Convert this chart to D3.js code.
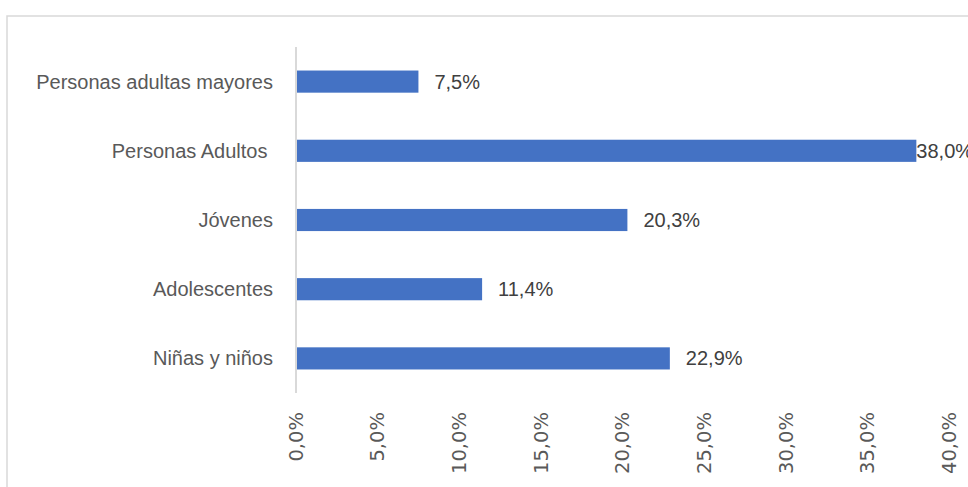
<!DOCTYPE html>
<html lang="es">
<head>
    <meta charset="UTF-8">
    <title>Distribución por grupo de edad</title>
    <script src="https://d3js.org/d3.v7.min.js"></script>
    <style>
        body { margin: 0; background: #fff; }
        .cat text { font: 20px "Liberation Sans", Arial, sans-serif; fill: #595959; white-space: pre; }
        .val { font: 20px "Liberation Sans", Arial, sans-serif; fill: #404040; }
        .xaxis text { font: 19.5px "DejaVu Sans", sans-serif; fill: #595959; }
    </style>
</head>
<body>
    <script>
        // categories top to bottom, values in percent
        var categories = ["Personas adultas mayores", "Personas Adultos ", "Jóvenes", "Adolescentes", "Niñas y niños"];
        var values = [7.5, 38.0, 20.3, 11.4, 22.9];
        var xTicks = [0, 5, 10, 15, 20, 25, 30, 35, 40];

        var width = 968, height = 487;
        var margin = {top: 47, left: 296, right: 19, bottom: 94};

        var svg = d3.select("body").append("svg")
            .attr("width", width)
            .attr("height", height);

        // chart area border
        svg.append("rect")
            .attr("x", 7).attr("y", 16)
            .attr("width", width + 20).attr("height", height + 20)
            .attr("fill", "none")
            .attr("stroke", "#d9d9d9")
            .attr("stroke-width", 1.5);

        var x = d3.scaleLinear()
            .domain([0, 40])
            .range([margin.left, width - margin.right]);

        var y = d3.scaleBand()
            .domain(categories)
            .range([margin.top, height - margin.bottom])
            .paddingInner(0.68)
            .paddingOuter(0.34);

        var data = categories.map((c, i) => ({cat: c, v: values[i]}));

        svg.selectAll(".bar")
            .data(data)
            .enter().append("rect")
            .attr("class", "bar")
            .attr("x", x(0))
            .attr("y", d => y(d.cat))
            .attr("width", d => x(d.v) - x(0))
            .attr("height", y.bandwidth())
            .attr("fill", "#4472c4");

        // vertical category axis line
        svg.append("line")
            .attr("x1", x(0)).attr("x2", x(0))
            .attr("y1", margin.top).attr("y2", height - margin.bottom)
            .attr("stroke", "#d9d9d9")
            .attr("stroke-width", 2);

        var cat = svg.append("g").attr("class", "cat");
        cat.selectAll("text")
            .data(categories)
            .enter().append("text")
            .attr("x", x(0) - 23)
            .attr("y", d => y(d) + y.bandwidth() / 2)
            .attr("dy", "0.35em")
            .attr("text-anchor", "end")
            .text(d => d);

        var fmt = v => v.toFixed(1).replace(".", ",") + "%";

        svg.selectAll(".val")
            .data(data)
            .enter().append("text")
            .attr("class", "val")
            .attr("x", function(d) {
                var px = x(d.v) + 16;
                return px + 56 > width ? x(d.v) : px;
            })
            .attr("y", d => y(d.cat) + y.bandwidth() / 2)
            .attr("dy", "0.35em")
            .text(d => fmt(d.v));

        // rotated tick labels below the plot
        var xa = svg.append("g").attr("class", "xaxis");
        xa.selectAll("text")
            .data(xTicks)
            .enter().append("text")
            .attr("transform", d => `translate(${x(d)},412) rotate(-90)`)
            .attr("dy", "0.35em")
            .attr("text-anchor", "end")
            .text(d => fmt(d));
    </script>
</body>
</html>
